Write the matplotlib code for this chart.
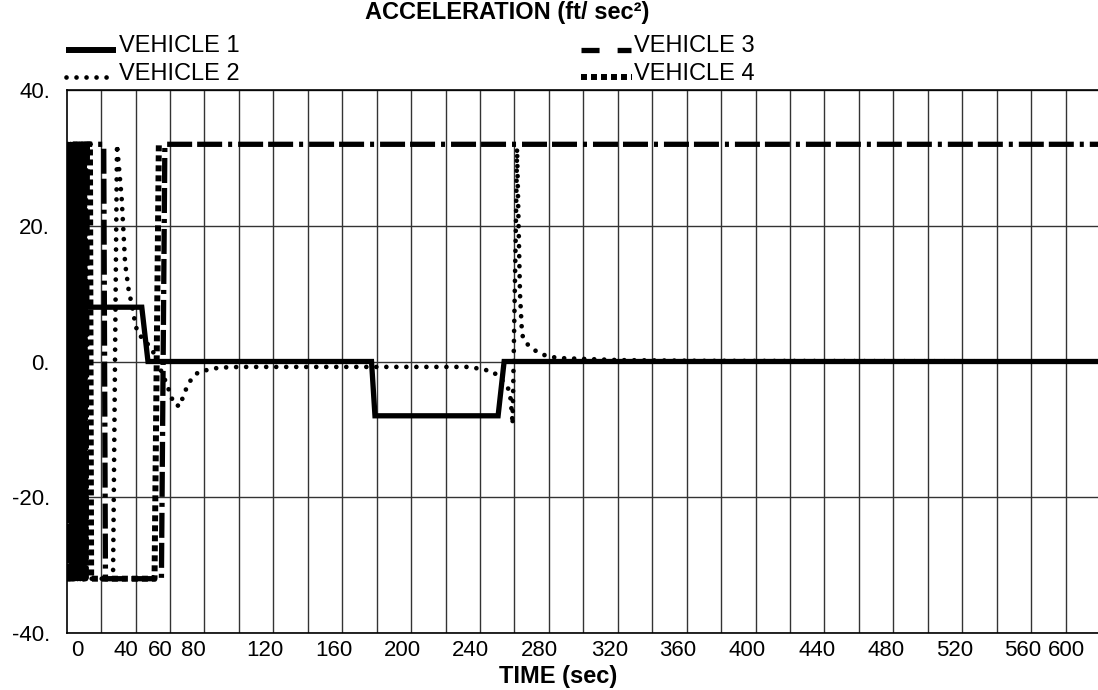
import matplotlib
matplotlib.use('Agg')
from matplotlib import pyplot as plt
from matplotlib.lines import Line2D

plt.rcParams['font.family'] = ['Liberation Sans', 'DejaVu Sans']
plt.rcParams['lines.scale_dashes'] = False

# ---- data (time in sec, acceleration in ft/sec^2) ----
v1_t = [0, 43.6, 47.2, 177, 179, 250.5, 254, 600]
v1_a = [8, 8, 0, 0, -8, -8, 0, 0]

v2_t = [0, 0.6, 1.4, 2.2, 3.0, 3.8, 4.6, 5.4, 6.2, 7.0, 7.8, 8.6, 9.4, 10.2, 11.0, 12.0,
        26.9, 29.2, 31.9, 32.9, 33.9, 36.2, 37.7, 39.7, 41.2, 49.4, 58.2, 62.3, 65.8,
        67.5, 69.9, 72.8, 76.8, 82.6, 88.4, 100.7, 232.5, 236, 242.4, 247.6, 255.7,
        257.5, 258, 258.6, 258.9, 259.5, 260.5, 261.5, 262.4, 263.2, 264.4, 266.1,
        270.2, 275.4, 280.7, 286.5, 298, 321, 368, 600]
v2_a = [0, -14, 31, -31, 30, -30, 31, -32, 29, -31, 30, -32, 31, -30, 31, -32,
        -32, 32, 24.1, 19.4, 14.5, 10.1, 8.6, 5.7, 4.2, 1.9, -3.4, -6.3, -6.6,
        -5.2, -3.7, -2.4, -1.5, -1.2, -0.9, -0.8, -0.8, -0.9, -1.2, -1.5, -3.5,
        -4.9, -6.4, -7.8, -9.3, 0, 15, 31.4, 20, 10, 4, 2.9,
        1.9, 1.1, 0.7, 0.5, 0.4, 0.2, 0.1, 0]

v3_t = [0, 0.7, 1.5, 2.3, 3.1, 3.9, 4.7, 5.5, 6.3, 7.1, 7.9, 8.7, 9.5, 10.3, 11.1, 12.0,
        21.5, 22.5, 55.0, 57.0, 600]
v3_a = [-10, 32, -32, 32, -32, 32, -32, 32, -32, 32, -32, 32, -32, 32, -32, 32,
        32, -32, -32, 32, 32]

v4_t = [0, 0.5, 1.2, 2.0, 2.8, 3.6, 4.4, 5.2, 6.0, 6.8, 7.6, 8.4, 9.2, 10.0, 10.8, 11.6,
        13.5, 14.2, 51.0, 53.5]
v4_a = [20, -32, 32, -32, 32, -32, 32, -32, 32, -32, 32, -32, 32, -32, 32, 32,
        32, -32, -32, 32]

x_grid = [20, 40, 60, 80, 100, 120, 140, 160, 180, 200, 220, 240, 260, 280, 300,
          320, 340, 360, 380, 400, 420, 440, 460, 480, 500, 520, 540, 560, 580]
x_tick_pos = [6, 34.2, 54.2, 73.3, 115.2, 155, 194.8, 234.7, 274.6, 315.3, 355,
              395, 435.5, 475.7, 515.8, 554.8, 580.6]
x_tick_lab = ['0', '40', '60', '80', '120', '160', '200', '240', '280', '320', '360',
              '400', '440', '480', '520', '560', '600']
y_ticks = [-40, -20, 0, 20, 40]
y_tick_lab = ['-40.', '-20.', '0.', '20.', '40.']

names = ['VEHICLE 1', 'VEHICLE 2', 'VEHICLE 3', 'VEHICLE 4']

# ---- styles ----
styles = [
    dict(color='black', lw=3.8, ls='-', solid_capstyle='butt', solid_joinstyle='miter'),
    dict(color='black', lw=3.4, ls=(0, (0.01, 7.2)), dash_capstyle='round'),
    dict(color='black', lw=3.8, ls=(0, (18, 3.6, 18, 4.3, 2.9, 4.3)), dash_capstyle='butt'),
    dict(color='black', lw=4.3, ls=(0, (4.3, 2.9)), dash_capstyle='butt'),
]
legend_styles = [
    dict(color='black', lw=4.3, ls='-', solid_capstyle='butt'),
    dict(color='black', lw=3.4, ls=(0, (0.01, 7.2)), dash_capstyle='round'),
    dict(color='black', lw=3.8, ls=(0, (13, 13, 10, 20)), dash_capstyle='butt'),
    dict(color='black', lw=4.3, ls=(0, (4.3, 2.9)), dash_capstyle='butt'),
]

W, H = 1098, 690
fig = plt.figure(figsize=(W / 100, H / 100), dpi=100)
ax = fig.add_axes([66.7 / W, 57 / H, 1033.3 / W, 543 / H])

series = [(v1_t, v1_a), (v2_t, v2_a), (v3_t, v3_a), (v4_t, v4_a)]
order = [3, 2, 1, 0]
for i in order:
    t, a = series[i]
    ax.plot(t, a, zorder=3 + i, **styles[i])

ax.set_xlim(0, 600)
ax.set_ylim(-40, 40)

ax.set_xticks(x_grid, minor=True)
ax.set_xticks(x_tick_pos, x_tick_lab)
ax.set_yticks(y_ticks, y_tick_lab)
ax.tick_params(which='both', length=0)
ax.tick_params(axis='x', labelsize=16, pad=5)
ax.tick_params(axis='y', labelsize=16, pad=12)
ax.grid(which='minor', axis='x', color='#333333', lw=1.0)
ax.grid(which='major', axis='y', color='#333333', lw=1.0)
ax.grid(which='major', axis='x', visible=False)
for s in ax.spines.values():
    s.set_linewidth(1.2)

fig.text(507 / W, 1 - 12 / H, 'ACCELERATION (ft/ sec²)', ha='center', va='center',
         fontsize=17, fontweight='bold')
fig.text(558 / W, 1 - 676 / H, 'TIME (sec)', ha='center', va='center',
         fontsize=17, fontweight='bold')

# legend drawn as two columns above the plot
leg_x = [(66, 116, 119), (66, 116, 119), (581, 632, 634), (581, 632, 634)]
leg_y = [(46, 50), (74, 77), (46, 50), (74, 77)]
for i, name in enumerate(names):
    x0, x1, xt = leg_x[i]
    yt, yl = leg_y[i]
    fig.add_artist(Line2D([x0 / W, x1 / W], [1 - yl / H, 1 - yl / H],
                          transform=fig.transFigure, **legend_styles[i]))
    fig.text(xt / W, 1 - yt / H, name, ha='left', va='center', fontsize=17)

plt.savefig('out.png', dpi=100)
